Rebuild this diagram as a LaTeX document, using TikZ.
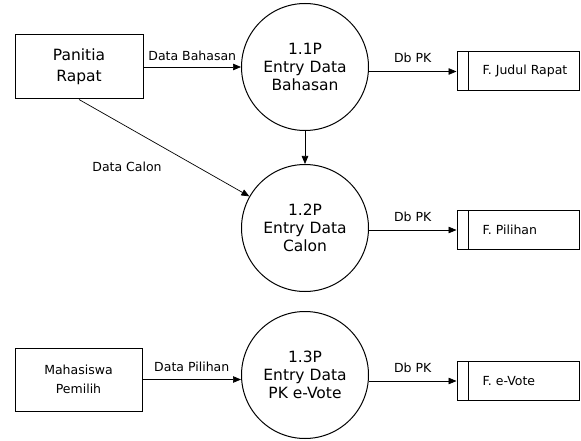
\documentclass[tikz,border=0pt]{standalone}
\usepackage		 {fontspec}
\setmainfont{DejaVu Sans}
\usetikzlibrary{shapes,calc,positioning}
\usetikzlibrary	 {arrows.meta}

\begin{document}
\begin{tikzpicture}[x=1pt,y=-1pt]
  \tikzset{ p/.style={circle,draw,line width=1pt,inner sep=0pt,minimum size=127pt,align=center,font=\fontsize{15.5}{18}\selectfont},
    e/.style={rectangle,draw,line width=1pt,inner sep=0pt,align=center},
    d/.style={rectangle,draw,line width=1pt,inner sep=0pt,minimum width=122pt,minimum height=39pt},
    f/.style={line width=0.7pt,-{Triangle[length=8pt,width=6.5pt]}},
    l/.style={font=\fontsize{12.5}{14}\selectfont},
  }
  \useasboundingbox (0,0) rectangle (581,441);

  \node[e,minimum width=128pt,minimum height=64pt,font=\fontsize{15.5}{21}\selectfont] (PR) at (79, 67) {Panitia\\Rapat};
  \node[e,minimum width=127pt,minimum height=63pt,font=\fontsize{12.5}{19}\selectfont] (MP) at (78.5, 379.5) {Mahasiswa\\Pemilih};

  \node[p] (P1) at (305, 67) {1.1P\\Entry Data\\Bahasan};
  \node[p] (P2) at (305, 228) {1.2P\\Entry Data\\Calon};
  \node[p] (P3) at (305, 375) {1.3P\\Entry Data\\PK e-Vote};

  \node[d] (D1) at (518, 71.5) {};
  \node[d] (D2) at (518, 230) {};
  \node[d] (D3) at (518, 381) {};
  \node[l,anchor=west,inner sep=0pt] (T1) at ($(D1.west)+(26,0)$) {F. Judul Rapat};
  \node[l,anchor=west,inner sep=0pt] (T2) at ($(D2.west)+(26,0)$) {F. Pilihan};
  \node[l,anchor=west,inner sep=0pt] (T3) at ($(D3.west)+(26,0)$) {F. e-Vote};
  \foreach \i in {1,2,3}
    \draw[line width=1pt] ($(D\i.north west)+(12,0)$) -- ($(D\i.south west)+(12,0)$);

  % the flows between the boxes
  \draw[f] (PR) -- (P1) node [l,midway,above=3pt] {Data Bahasan};
  \draw[f] (PR.south) -- (P2);
  \node[l] (DC) at (127, 167) {Data Calon};
  \draw[f] (P1) -- (P2);
  \draw[f] (MP.east) -- (MP.east -| P3.west) node [l,midway,above=4pt] {Data Pilihan};

  \draw[f] (P1.east |- D1.west) -- (D1.west) node [l,midway,above=5pt] {Db PK};
  \draw[f] (P2.east |- D2.west) -- (D2.west) node [l,midway,above=5pt] {Db PK};
  \draw[f] (P3.east |- D3.west) -- (D3.west) node [l,midway,above=5pt] {Db PK};
\end{tikzpicture}
\end{document}
